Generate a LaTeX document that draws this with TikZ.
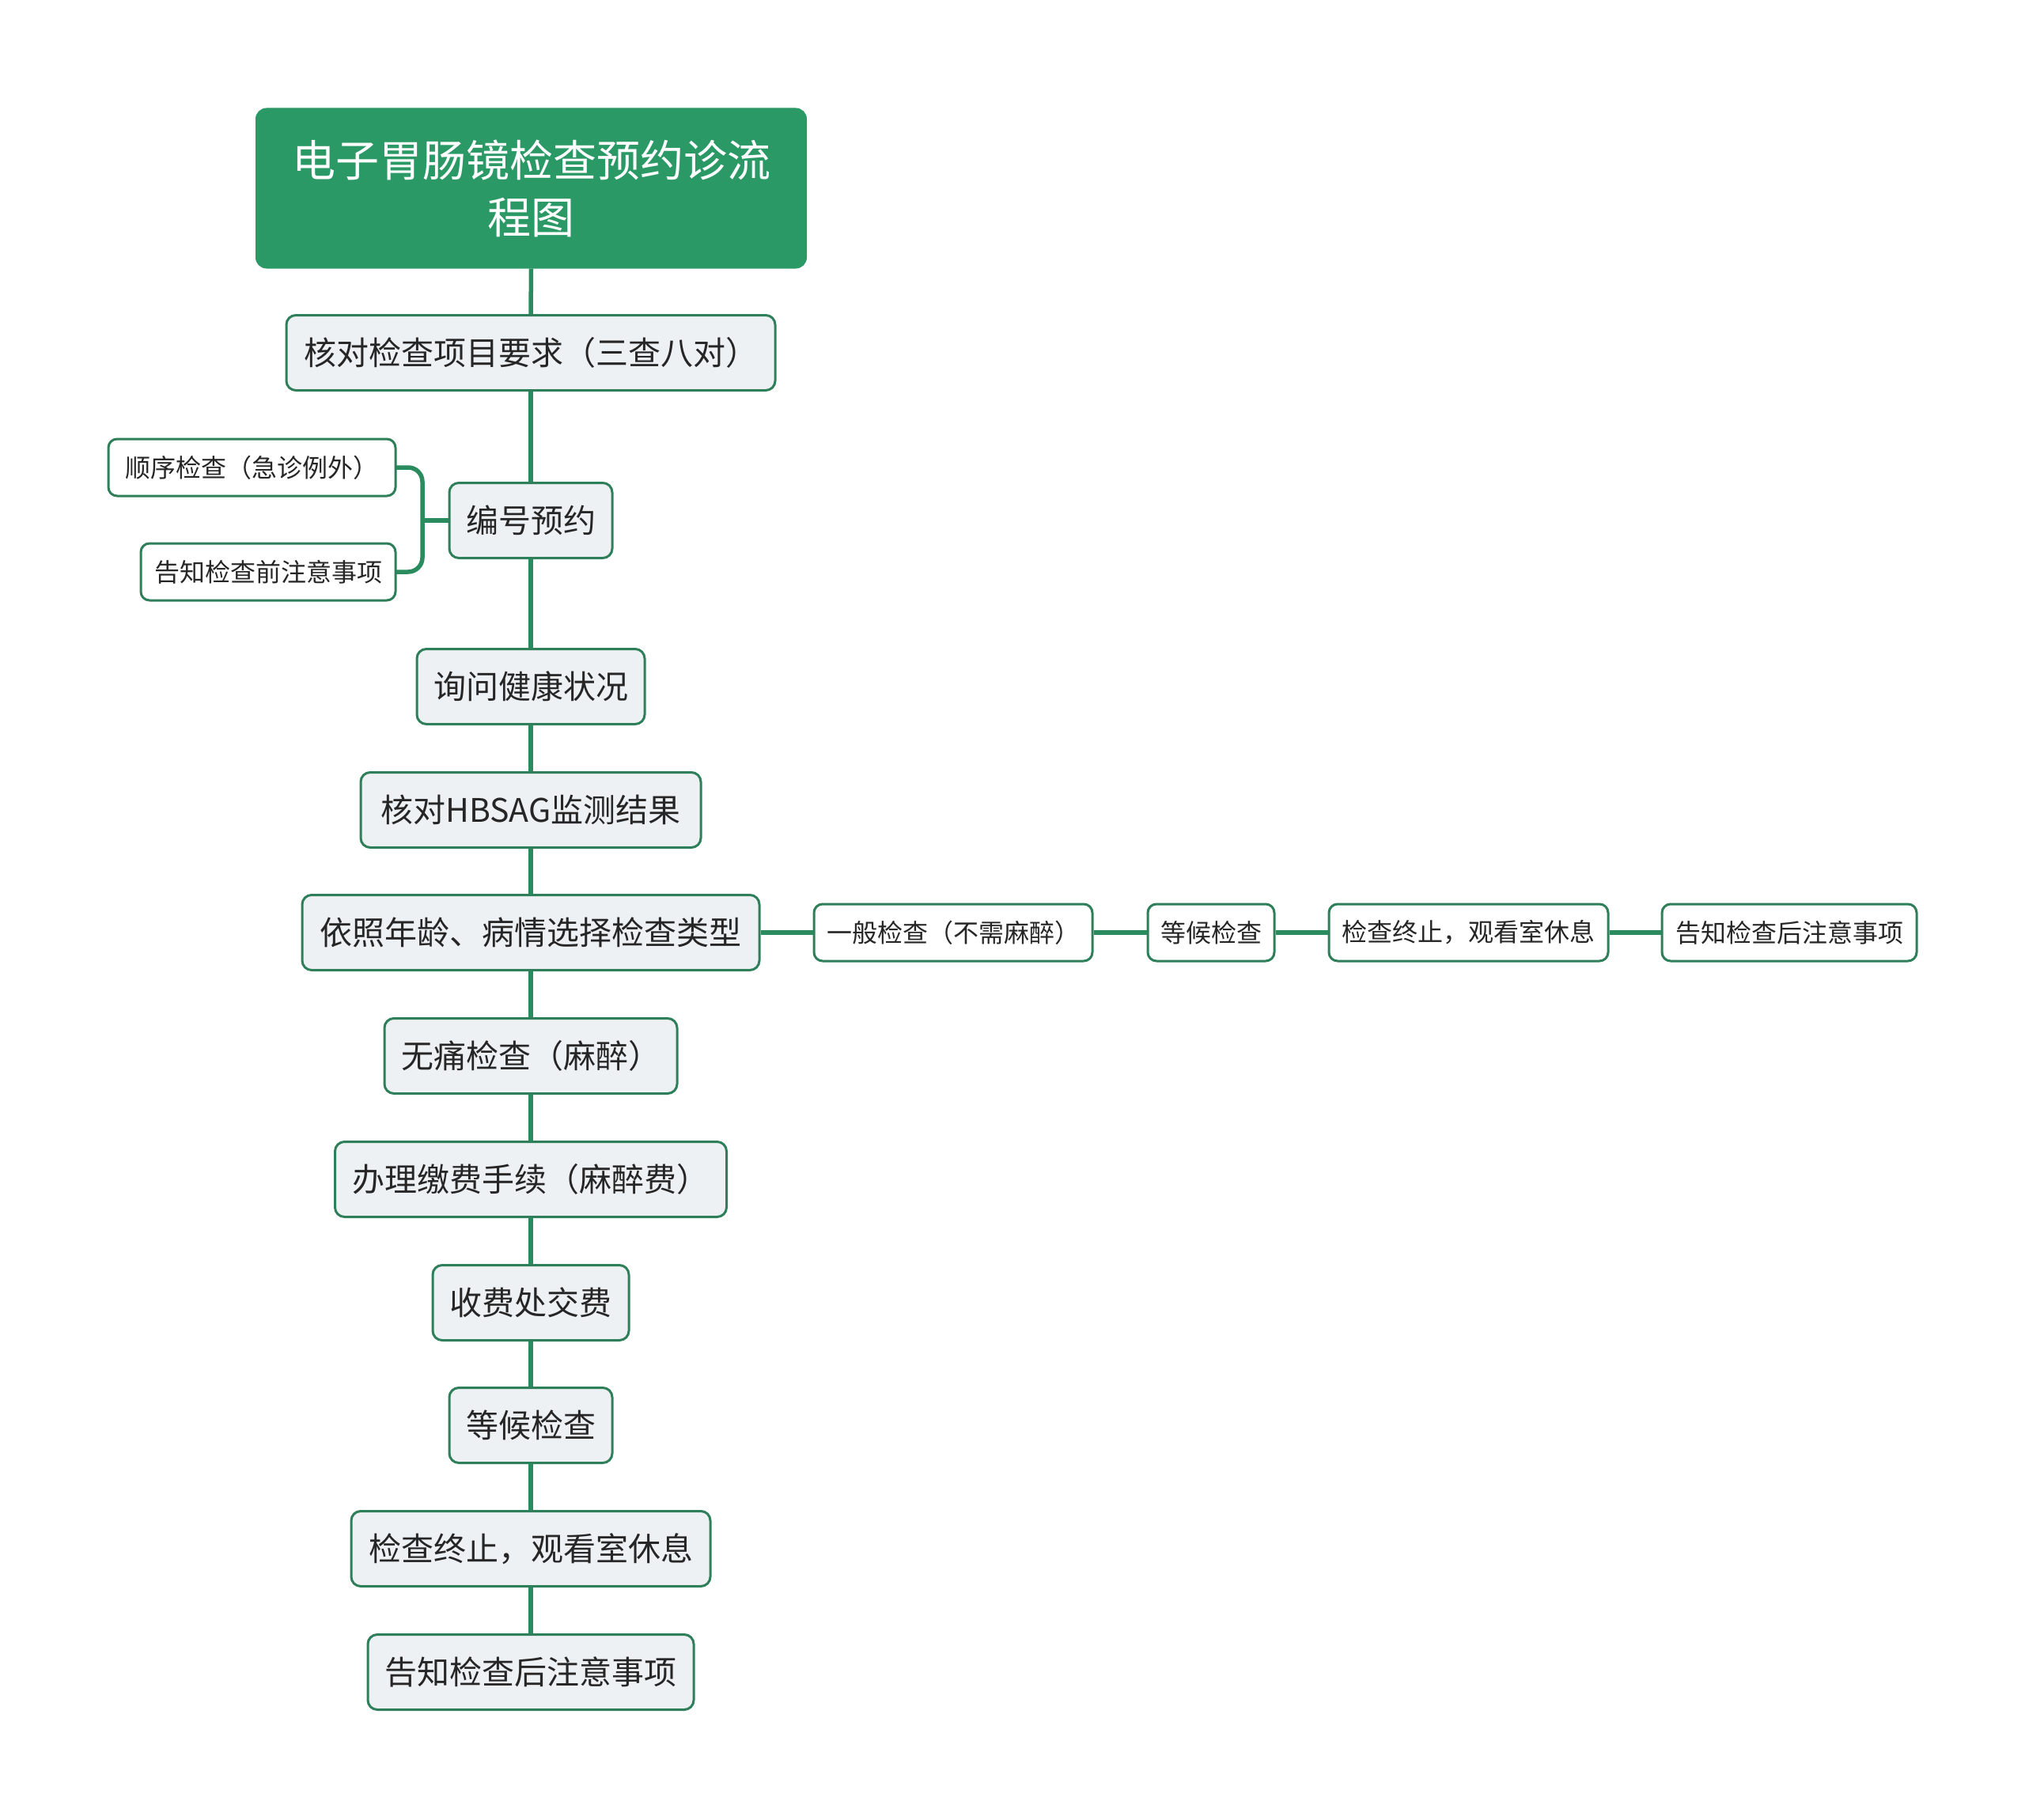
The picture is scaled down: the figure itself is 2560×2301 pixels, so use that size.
\documentclass[tikz,border=0pt]{standalone}
\usepackage{fontspec}
\setmainfont{Noto Sans CJK SC}
\definecolor{titlefill}{HTML}{2B9966}
\definecolor{bord}{HTML}{2F7F5A}
\definecolor{linec}{HTML}{2A8C5E}
\definecolor{nodefill}{HTML}{EEF1F4}
\definecolor{txt}{HTML}{262626}
\tikzset{
  mainbox/.style={draw=bord, fill=nodefill, line width=3pt, rounded corners=12pt,
    text=txt, font=\fontsize{41}{48}\selectfont, inner sep=0pt, minimum height=95pt},
  smallbox/.style={draw=bord, fill=white, line width=3pt, rounded corners=11pt,
    text=txt, font=\fontsize{32}{38}\selectfont, inner sep=0pt, minimum height=72pt},
  titlebox/.style={fill=titlefill, rounded corners=14pt, text=white, align=center,
    font=\fontsize{55}{72}\selectfont, inner sep=0pt, minimum width=697pt, minimum height=203pt},
  conn/.style={draw=linec, line width=5.5pt},
}
\begin{document}
\begin{tikzpicture}[x=1pt,y=-1pt]
\useasboundingbox[fill=white] (0,0) rectangle (2560,2301);
% connectors
\coordinate (bk) at (534,658);
\draw[conn, rounded corners=18pt] (500,591) -| (bk) |- (500,723);
\draw[conn] (bk) -- (568,658);

\node[titlebox] (t) at (671.5,238) {电子胃肠镜检查预约诊流\\程图};
\node[mainbox, minimum width=618pt] (n1) at (671,446) {核对检查项目要求（三查八对）};
\node[mainbox, minimum width=206pt] (n2) at (671,658) {编号预约};
\node[mainbox, minimum width=288pt] (n3) at (671,868) {询问健康状况};
\node[mainbox, minimum width=430pt] (n4) at (671,1024) {核对HBSAG监测结果};
\node[mainbox, minimum width=578pt] (n5) at (671,1179) {依照年龄、病情选择检查类型};
\node[mainbox, minimum width=370pt] (n6) at (671,1335) {无痛检查（麻醉）};
\node[mainbox, minimum width=495pt] (n7) at (671,1491) {办理缴费手续（麻醉费）};
\node[mainbox, minimum width=248pt] (n8) at (671,1647) {收费处交费};
\node[mainbox, minimum width=206pt] (n9) at (671,1802) {等候检查};
\node[mainbox, minimum width=454pt] (n10) at (671,1958) {检查终止，观看室休息};
\node[mainbox, minimum width=412pt] (n11) at (671,2114) {告知检查后注意事项};

\node[smallbox, minimum width=363pt] (l1) at (318.5,591) {顺序检查（急诊例外）};
\node[smallbox, minimum width=322pt] (l2) at (339,723) {告知检查前注意事项};

\node[smallbox, minimum width=352pt] (r1) at (1205,1179) {一般检查（不需麻醉）};
\node[smallbox, minimum width=160pt] (r2) at (1531,1179) {等候检查};
\node[smallbox, minimum width=353pt] (r3) at (1856.5,1179) {检查终止，观看室休息};
\node[smallbox, minimum width=322pt] (r4) at (2262,1179) {告知检查后注意事项};

\draw[conn] (t.south) -- (n1.north);
\draw[conn] (n1.south) -- (n2.north);
\draw[conn] (n2.south) -- (n3.north);
\draw[conn] (n3.south) -- (n4.north);
\draw[conn] (n4.south) -- (n5.north);
\draw[conn] (n5.south) -- (n6.north);
\draw[conn] (n6.south) -- (n7.north);
\draw[conn] (n7.south) -- (n8.north);
\draw[conn] (n8.south) -- (n9.north);
\draw[conn] (n9.south) -- (n10.north);
\draw[conn] (n10.south) -- (n11.north);
\draw[conn] (n5.east) -- (r1.west);
\draw[conn] (r1.east) -- (r2.west);
\draw[conn] (r2.east) -- (r3.west);
\draw[conn] (r3.east) -- (r4.west);
\end{tikzpicture}
\end{document}
